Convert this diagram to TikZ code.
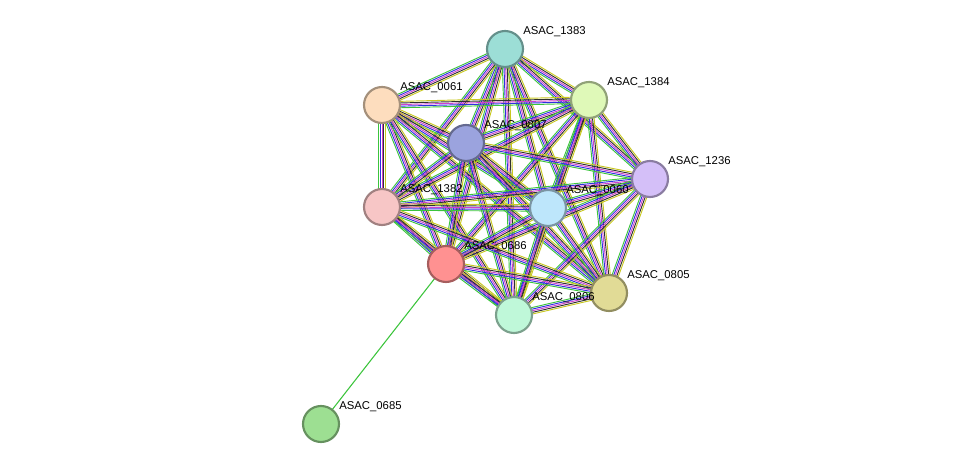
\documentclass[tikz,border=0pt]{standalone}
\usepackage{fontspec}
\setmainfont{Liberation Sans}
\usetikzlibrary{calc}
\begin{document}
\begin{tikzpicture}[x=0.75pt,y=-0.75pt,
 prot/.style={circle,draw=#1!65!black,fill=#1,line width=1.6pt,minimum size=27pt,inner sep=0pt},
 lab/.style={anchor=south west,inner sep=0pt,font=\fontsize{8.5}{10}\selectfont}]
\useasboundingbox (0,0) rectangle (975,470);
\definecolor{cA}{HTML}{9CDED6}\definecolor{cB}{HTML}{FDDDBE}\definecolor{cC}{HTML}{DFF9B8}
\definecolor{cD}{HTML}{9BA3DE}\definecolor{cE}{HTML}{D4BFF8}\definecolor{cF}{HTML}{F7C6C6}
\definecolor{cG}{HTML}{BDE6FB}\definecolor{cH}{HTML}{FF9191}\definecolor{cI}{HTML}{E1DB96}
\definecolor{cJ}{HTML}{BFF8D9}\definecolor{cK}{HTML}{9DDF92}
\definecolor{eg}{HTML}{3CC43C}\definecolor{ey}{HTML}{C8C820}\definecolor{em}{HTML}{D040D0}
\definecolor{eb}{HTML}{3030E0}\definecolor{ek}{HTML}{303030}\definecolor{er}{HTML}{E03030}
\coordinate (n1383) at (505,49);
\coordinate (n0061) at (382,105);
\coordinate (n1384) at (589,100);
\coordinate (n0807) at (466,143);
\coordinate (n1236) at (650,179);
\coordinate (n1382) at (382,207);
\coordinate (n0060) at (548,208);
\coordinate (n0686) at (446,264);
\coordinate (n0805) at (609,293);
\coordinate (n0806) at (514,315);
\coordinate (n0685) at (321,424);
\foreach \a/\b in {1383/0061,1383/1384,1383/0807,1383/1236,1383/1382,1383/0060,1383/0686,1383/0805,1383/0806,
 0061/1384,0061/0807,0061/1382,0061/0060,0061/0686,0061/0805,0061/0806,
 1384/0807,1384/1236,1384/1382,1384/0060,1384/0686,1384/0805,1384/0806,
 0807/1236,0807/1382,0807/0060,0807/0686,0807/0805,0807/0806,
 1236/1382,1236/0060,1236/0686,1236/0805,1236/0806,
 1382/0060,1382/0686,1382/0805,1382/0806,
 0060/0686,0060/0805,0060/0806,
 0686/0805,0686/0806,0805/0806}{
 \foreach \o/\c in {-2.4pt/eg,-1.2pt/eb,0pt/em,1.2pt/ek,2.4pt/ey}{
  \draw[\c,line width=0.7pt] ($(n\a)!\o!90:(n\b)$) -- ($(n\b)!\o!-90:(n\a)$);
 }}
\draw[eg,line width=0.8pt] (n0686) -- (n0685);
\foreach \n/\c in {1383/cA,0061/cB,1384/cC,0807/cD,1236/cE,1382/cF,0060/cG,0686/cH,0805/cI,0806/cJ,0685/cK}{
 \node[prot=\c] (m\n) at (n\n) {};
 \node[lab] at ($(n\n)+(18,-12)$) {ASAC\_\n};
}
\end{tikzpicture}
\end{document}
